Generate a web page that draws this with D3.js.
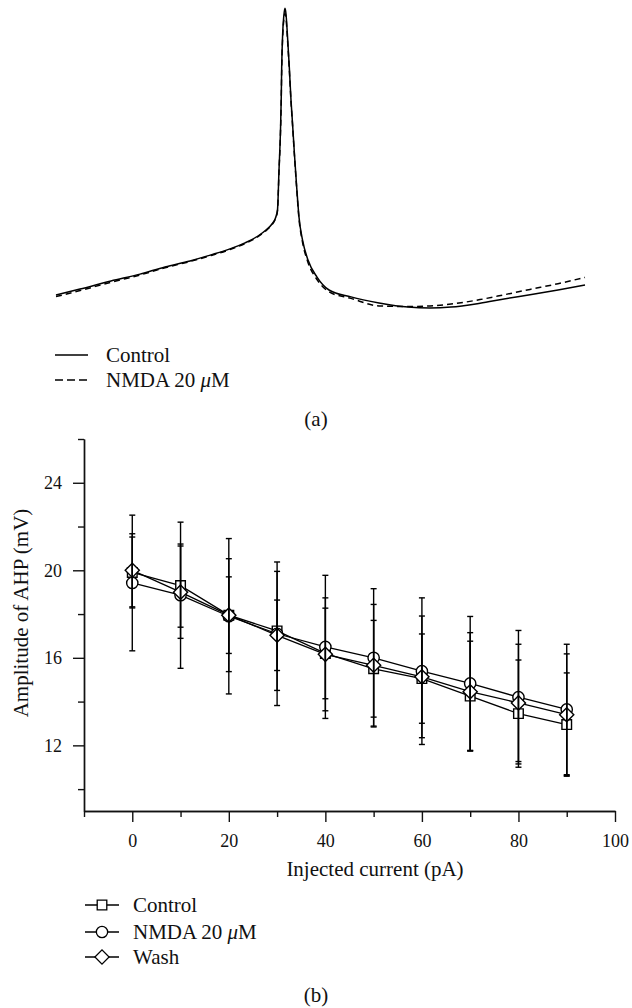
<!DOCTYPE html>
<html>
<head>
<meta charset="utf-8">
<script src="https://cdn.jsdelivr.net/npm/d3@7/dist/d3.min.js"></script>
<style>
  html, body { margin: 0; padding: 0; background: #fff; }
  svg { display: block; }
</style>
</head>
<body>
<svg id="fig" width="632" height="1008" font-family="Liberation Serif, Times New Roman, DejaVu Serif, serif"></svg>
<script>
// ---- Panel (a): single action potential, time (ms) vs membrane potential (mV)
const traceTime = [0, 2.4, 5.5, 8.4, 10.9, 13.4, 15.5, 17.4, 18.9, 20.2, 21.0, 21.6, 21.95, 22.15, 22.3, 22.45, 22.52, 22.57, 22.67, 22.78, 22.9, 23.0, 23.13, 23.33, 23.5, 23.63, 23.85, 24.04, 24.3, 24.65, 25.2, 26.1, 27.3, 29.5, 32.3, 35.2, 37.4, 39.5, 42.4, 44.8, 47.4, 50.2, 52.9];
const traceControl = [-65.7, -63.7, -61.0, -58.7, -56.3, -54.3, -52.3, -50.3, -48.3, -46.0, -44.0, -42.0, -40.0, -37.3, -24.0, -10.7, -0.7, 10.3, 21.7, 27.3, 29.9, 28.0, 21.7, 10.3, -0.7, -7.3, -19.0, -28.3, -39.7, -47.3, -54.0, -59.7, -64.0, -66.3, -68.3, -69.7, -70.0, -69.7, -68.4, -67.0, -65.6, -64.0, -62.3];
const traceNMDA = [-66.2, -64.2, -61.4, -59.0, -56.6, -54.5, -52.5, -50.5, -48.5, -46.2, -44.2, -42.2, -40.2, -37.6, -24.5, -11.5, -1.5, 9.5, 20.5, 26.0, 28.2, 26.8, 20.5, 9.5, -1.2, -7.8, -19.5, -28.8, -40.3, -48.0, -54.8, -60.5, -64.6, -66.8, -69.3, -69.5, -69.3, -68.7, -67.2, -65.6, -63.8, -61.9, -59.8];

// ---- Panel (b): AHP amplitude vs injected current
const current = [0, 10, 20, 30, 40, 50, 60, 70, 80, 90];
const controlMean = [19.9, 19.3, 17.95, 17.23, 16.2, 15.5, 15.05, 14.25, 13.45, 12.95];
const controlErr  = [1.62, 1.9, 1.75, 2.72, 2.07, 2.21, 2.04, 2.51, 2.45, 2.36];
const nmdaMean    = [19.42, 18.86, 17.9, 17.1, 16.5, 16.0, 15.39, 14.83, 14.2, 13.64];
const nmdaErr     = [3.1, 3.34, 3.55, 3.28, 3.27, 3.16, 3.35, 3.06, 3.05, 2.98];
const washMean    = [20.0, 19.0, 17.95, 17.03, 16.16, 15.66, 15.13, 14.45, 13.94, 13.4];
const washErr     = [1.67, 2.11, 2.58, 1.61, 2.58, 2.78, 2.78, 2.7, 2.68, 2.78];

const xMajorTicks = [0, 20, 40, 60, 80, 100];
const xMinorTicks = [-10, 10, 30, 50, 70, 90];
const yMajorTicks = [12, 16, 20, 24];
const yMinorTicks = [10, 14, 18, 22, 26];

const FONT = "Liberation Serif, Times New Roman, DejaVu Serif, serif";
const INK = "#111";

const svg = d3.select("#fig");

function label(g, x, y, size, parts, anchor) {
  const t = g.append("text").attr("x", x).attr("y", y)
    .attr("font-family", FONT).attr("font-size", size).attr("fill", INK)
    .attr("text-anchor", anchor || "start");
  parts.forEach(p => {
    const sp = t.append("tspan").text(p);
    if (p === "\u03bc") sp.attr("font-style", "italic");
  });
  return t;
}

// ================= Panel (a) =================
const tx = d3.scaleLinear().domain([0, 53]).range([56, 586]);
const ty = d3.scaleLinear().domain([30, -70]).range([8, 308]);

const traceLine = (vals) => d3.line()
  .x((d, i) => tx(traceTime[i]))
  .y(d => ty(d))
  .curve(d3.curveMonotoneX)(vals);

const gA = svg.append("g");
gA.append("path")
  .attr("d", traceLine(traceNMDA))
  .attr("fill", "none").attr("stroke", "#000").attr("stroke-width", 1.5)
  .attr("stroke-dasharray", "6,4");
gA.append("path")
  .attr("d", traceLine(traceControl))
  .attr("fill", "none").attr("stroke", "#000").attr("stroke-width", 1.5);

const legendA = [
  { parts: ["Control"], dash: null, y: 355 },
  { parts: ["NMDA 20 ", "\u03bc", "M"], dash: "8,4", y: 380 }
];
legendA.forEach(d => {
  gA.append("line").attr("x1", 55).attr("x2", 88).attr("y1", d.y).attr("y2", d.y)
    .attr("stroke", "#000").attr("stroke-width", 1.4)
    .attr("stroke-dasharray", d.dash);
  label(gA, 106, d.y + 7, 21, d.parts);
});
label(svg, 316, 426, 21, ["(a)"], "middle");

// ================= Panel (b) =================
const x = d3.scaleLinear().domain([-10, 100]).range([84, 615]);
const y = d3.scaleLinear().domain([9, 26]).range([811, 439]);

const gB = svg.append("g");

const xAxisMajor = d3.axisBottom(x).tickValues(xMajorTicks).tickSize(11).tickSizeOuter(0).tickPadding(13)
  .tickFormat(d3.format("d"));
const xAxisMinor = d3.axisBottom(x).tickValues(xMinorTicks).tickSize(6).tickSizeOuter(0).tickFormat("");
const yAxisMajor = d3.axisLeft(y).tickValues(yMajorTicks).tickSize(11).tickSizeOuter(0).tickPadding(11)
  .tickFormat(d3.format("d"));
const yAxisMinor = d3.axisLeft(y).tickValues(yMinorTicks).tickSize(6).tickSizeOuter(0).tickFormat("");

function styleAxis(g) {
  g.attr("font-family", FONT);
  g.selectAll("path.domain").attr("stroke", INK).attr("stroke-width", 1.4);
  g.selectAll(".tick line").attr("stroke", INK).attr("stroke-width", 1.4);
  g.selectAll(".tick text").attr("font-family", FONT)
    .attr("font-size", 18).attr("fill", INK);
}

const gx1 = gB.append("g").attr("transform", `translate(0,${y(9)})`).call(xAxisMajor).call(styleAxis);
gB.append("g").attr("transform", `translate(0,${y(9)})`).call(xAxisMinor).call(styleAxis);
gB.append("g").attr("transform", `translate(${x(-10)},0)`).call(yAxisMajor).call(styleAxis);
gB.append("g").attr("transform", `translate(${x(-10)},0)`).call(yAxisMinor).call(styleAxis);
gx1.selectAll(".tick text").attr("dy", 0).attr("y", 36);

// axis titles
label(gB, 375, 876, 21, ["Injected current (pA)"], "middle");
label(gB, 0, 0, 21, ["Amplitude of AHP (mV)"], "middle")
  .attr("transform", "translate(28,613) rotate(-90)");

// series: markers are white-filled, diamond is a square turned 45 degrees
const series = [
  { name: "Control", mean: controlMean, err: controlErr, symbol: d3.symbolSquare, size: 92, rot: 0 },
  { name: "NMDA", mean: nmdaMean, err: nmdaErr, symbol: d3.symbolCircle, size: 100, rot: 0 },
  { name: "Wash", mean: washMean, err: washErr, symbol: d3.symbolSquare, size: 100, rot: 45 }
];

const lineGen = (s) => d3.line().x((d, i) => x(current[i])).y(d => y(d))(s.mean);

series.forEach(s => {
  gB.append("path").attr("d", lineGen(s))
    .attr("fill", "none").attr("stroke", "#000").attr("stroke-width", 1.3);
});

series.forEach(s => {
  gB.append("g").selectAll("path").data(s.mean).join("path")
    .attr("transform", (d, i) => `translate(${x(current[i])},${y(d)}) rotate(${s.rot})`)
    .attr("d", d3.symbol().type(s.symbol).size(s.size))
    .attr("fill", "#fff").attr("stroke", "#000").attr("stroke-width", 1.4);
});

// error bars
series.forEach(s => {
  const g = gB.append("g").attr("stroke", "#000").attr("stroke-width", 1.4);
  s.mean.forEach((m, i) => {
    const cx = x(current[i]);
    const hi = y(m + s.err[i]), lo = y(m - s.err[i]);
    g.append("line").attr("x1", cx).attr("x2", cx).attr("y1", hi).attr("y2", lo);
    g.append("line").attr("x1", cx - 3).attr("x2", cx + 3).attr("y1", hi).attr("y2", hi);
    g.append("line").attr("x1", cx - 3).attr("x2", cx + 3).attr("y1", lo).attr("y2", lo);
  });
});

// legend (b)
const legendB = [
  { s: series[0], parts: ["Control"], y: 905 },
  { s: series[1], parts: ["NMDA 20 ", "\u03bc", "M"], y: 932 },
  { s: series[2], parts: ["Wash"], y: 957 }
];
legendB.forEach(d => {
  gB.append("line").attr("x1", 85).attr("x2", 119).attr("y1", d.y).attr("y2", d.y)
    .attr("stroke", "#000").attr("stroke-width", 1.3);
  gB.append("path").attr("transform", `translate(102,${d.y}) rotate(${d.s.rot})`)
    .attr("d", d3.symbol().type(d.s.symbol).size(d.s.size))
    .attr("fill", "#fff").attr("stroke", "#000").attr("stroke-width", 1.3);
  label(gB, 133, d.y + 7, 21, d.parts);
});

label(svg, 316, 1002, 21, ["(b)"], "middle");
</script>
</body>
</html>
